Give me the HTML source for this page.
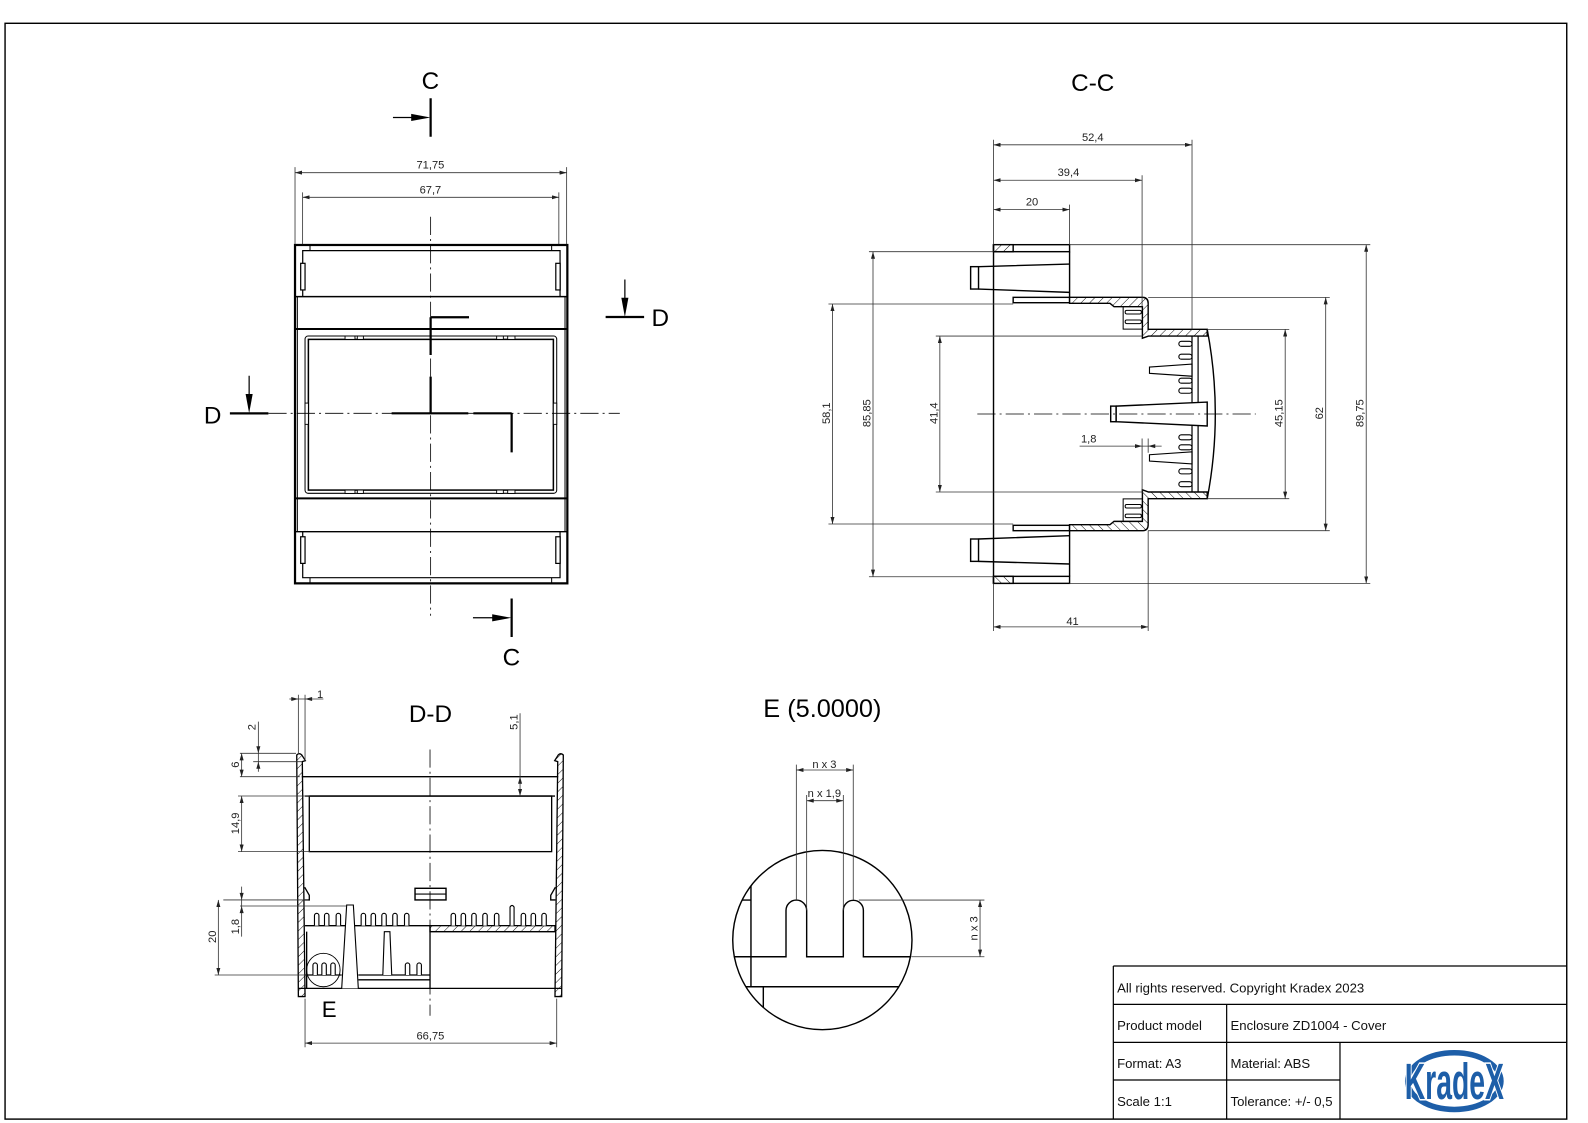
<!DOCTYPE html>
<html><head><meta charset="utf-8"><style>
html,body{margin:0;padding:0;background:#fff;}
svg{display:block;}
text{font-family:"Liberation Sans",Arial,sans-serif;}
</style></head><body>
<svg width="1588" height="1123" viewBox="0 0 1588 1123" xmlns="http://www.w3.org/2000/svg">
<defs>
<pattern id="h" patternUnits="userSpaceOnUse" width="6" height="6" patternTransform="rotate(45)"><rect width="6" height="6" fill="#fff"/><line x1="0" y1="0" x2="0" y2="6" stroke="#000" stroke-width="0.9"/></pattern>
<marker id="ar" viewBox="0 0 7 4" refX="7" refY="2" markerWidth="7" markerHeight="4" markerUnits="userSpaceOnUse" orient="auto-start-reverse"><path d="M0,0L7,2L0,4z" fill="#222"/></marker>
<clipPath id="ec"><circle cx="812" cy="928.2" r="88.5"/></clipPath>
</defs>
<rect width="1588" height="1123" fill="#fff"/>
<g transform="scale(1.01276)">

<!-- FRAME -->
<rect x="5" y="23" width="1542" height="1082" fill="none" stroke="#000" stroke-width="1.4"/>

<!-- ============ FRONT VIEW ============ -->
<g fill="none" stroke="#000">
<rect x="291.3" y="241.9" width="268.9" height="334.1" stroke-width="2.2"/>
<path d="M291.3,292.9H560.2M291.3,525H560.2" stroke-width="1.4"/>
<path d="M291.3,324.9H560.2M291.3,492.1H560.2" stroke-width="2"/>
<path d="M293.6,292.9V525M557.9,292.9V525" stroke-width="1"/>
<path d="M298.9,292.9V247.5H553V292.9" stroke-width="1.2"/>
<path d="M306.1,241.9V247.5M544.7,241.9V247.5" stroke-width="1"/>
<rect x="296.9" y="260" width="4.3" height="26.3" stroke-width="1.2" fill="#fff"/>
<rect x="548.8" y="260" width="4.3" height="26.3" stroke-width="1.2" fill="#fff"/>
<path d="M298.9,525V570.4H553V525" stroke-width="1.2"/>
<path d="M306.1,570.4V576M544.7,570.4V576" stroke-width="1"/>
<rect x="296.9" y="530" width="4.3" height="26.3" stroke-width="1.2" fill="#fff"/>
<rect x="548.8" y="530" width="4.3" height="26.3" stroke-width="1.2" fill="#fff"/>
<rect x="301.2" y="331.8" width="248.5" height="155.3" rx="3" stroke-width="1"/>
<rect x="304.5" y="335.1" width="241.9" height="148.8" stroke-width="1.5"/>
<g stroke-width="0.9" fill="#fff">
<rect x="340.7" y="331.8" width="9.8" height="3.3"/><rect x="352.8" y="331.8" width="6" height="3.3"/>
<rect x="490.4" y="331.8" width="6.6" height="3.3"/><rect x="501.3" y="331.8" width="7.2" height="3.3"/>
<rect x="340.7" y="483.9" width="9.8" height="3.3"/><rect x="352.8" y="483.9" width="6" height="3.3"/>
<rect x="490.4" y="483.9" width="6.6" height="3.3"/><rect x="501.3" y="483.9" width="7.2" height="3.3"/>
<rect x="301.2" y="398" width="3.3" height="21"/><rect x="546.4" y="398" width="3.3" height="21"/>
</g>
<path d="M425.2,214V608M265,408.1H612" stroke-width="0.8" stroke-dasharray="18,4,2,4"/>
<path d="M425.2,313.3H463.1M425.2,313.3V350.5M425.2,371.9V408.1M386.7,408.1H462.4M467.4,408.1H505.2M505.2,408.1V446.7" stroke-width="2.2"/>
<!-- section markers -->
<path d="M425.2,97V135M505.2,591V629M227,408.2H265M598,313H636" stroke-width="2.2"/>
<path d="M388,116H407M467,610H487M246,371V390M617,276V295" stroke-width="1.2"/>
</g>
<g fill="#000">
<polygon points="406,112.5 425,116 406,119.5"/>
<polygon points="486,606.5 505,610 486,613.5"/>
<polygon points="242.5,389 246,408 249.5,389"/>
<polygon points="613.5,294 617,313 620.5,294"/>
</g>
<g font-size="24" text-anchor="middle" fill="#000">
<text x="425" y="88">C</text>
<text x="505" y="657">C</text>
<text x="210" y="418">D</text>
<text x="652" y="322">D</text>
</g>
<!-- front dims -->
<g stroke="#333" stroke-width="0.8" fill="none">
<path d="M291.3,165V241M559.5,165V241M298.8,190V241M551.8,190V241"/>
<line x1="291.3" y1="170.5" x2="559.5" y2="170.5" marker-start="url(#ar)" marker-end="url(#ar)"/>
<line x1="298.8" y1="194.8" x2="551.8" y2="194.8" marker-start="url(#ar)" marker-end="url(#ar)"/>
</g>
<g font-size="11" fill="#222" text-anchor="middle">
<text x="425" y="166.5">71,75</text>
<text x="425" y="191">67,7</text>
</g>

<!-- ============ C-C VIEW ============ -->
<g id="cth" fill="none" stroke="#000" stroke-width="1.4">
<rect x="981" y="241.6" width="75.1" height="6.9"/>
<rect x="981" y="241.6" width="19.4" height="6.9" fill="url(#h)"/>
<path d="M1056.1,248.5V293.6"/>
<rect x="958.4" y="263.3" width="7.8" height="22.1"/>
<path d="M966.2,263.3L1056.1,260.7M966.2,285.4L1056.1,288.7"/>
<rect x="1000.4" y="293.6" width="55.7" height="5.3"/>
<path d="M1056.1,293.6H1128Q1133.7,293.6 1133.7,299.5V325.2H1192V331.8H1134L1128,334V302.8H1100L1096,299.5H1056.1Z" fill="url(#h)"/>
<path d="M1109,302.8V325H1128" stroke-width="1"/>
<rect x="1111" y="306.5" width="16" height="3.5" rx="1.5" stroke-width="1"/>
<rect x="1111" y="316" width="16" height="3.5" rx="1.5" stroke-width="1"/>
<g stroke-width="1.1" fill="#fff">
<rect x="1164" y="337" width="13" height="5" rx="2.5"/>
<rect x="1164" y="349.7" width="13" height="5" rx="2.5"/>
<rect x="1164" y="373.4" width="13" height="5" rx="2.5"/>
<rect x="1164" y="383.3" width="13" height="5" rx="2.5"/>
<polygon points="1135,362.4 1177,359.5 1177,371.5 1135,368.6"/>
</g>
</g>
<use href="#cth" transform="translate(0,817.6) scale(1,-1)"/>
<g fill="none" stroke="#000" stroke-width="1.4">
<path d="M981,241.6V576"/>
<path d="M1177,331.8V485.8M1183,331.8V485.8" stroke-width="1.2"/>
<path d="M1192,325.2Q1208,408.8 1192,492.4"/>
<polygon points="1102,401 1192,397 1192,420.6 1102,416.4" fill="#fff"/>
<rect x="1096.7" y="401" width="5.3" height="15.4" fill="#fff"/>
<path d="M965,408.8H1240" stroke-width="0.8" stroke-dasharray="18,4,2,4"/>
</g>
<g stroke="#333" stroke-width="0.8" fill="none">
<path d="M1056,241.6H1353M1056,576H1353M858,248.5H981M858,569.5H981M818,300.2H1000.4M818,517.4H1000.4M924,331.8H1128M924,485.8H1128M1192,325.2H1273M1192,492.4H1273M1133.7,293.6H1313M1133.7,524H1313"/>
<path d="M981,138V241.6M1177,138V325.2M1127.7,173V302.8M1056.1,202V241.6M981,576V623M1133.7,524V623M1127.7,433V487M1133.7,433V447"/>
<line x1="981" y1="143" x2="1177" y2="143" marker-start="url(#ar)" marker-end="url(#ar)"/>
<line x1="981" y1="178" x2="1127.7" y2="178" marker-start="url(#ar)" marker-end="url(#ar)"/>
<line x1="981" y1="207" x2="1056.1" y2="207" marker-start="url(#ar)" marker-end="url(#ar)"/>
<line x1="981" y1="619" x2="1133.7" y2="619" marker-start="url(#ar)" marker-end="url(#ar)"/>
<line x1="822" y1="300.2" x2="822" y2="517.4" marker-start="url(#ar)" marker-end="url(#ar)"/>
<line x1="862" y1="248.5" x2="862" y2="569.5" marker-start="url(#ar)" marker-end="url(#ar)"/>
<line x1="928" y1="331.8" x2="928" y2="485.8" marker-start="url(#ar)" marker-end="url(#ar)"/>
<line x1="1269" y1="325.2" x2="1269" y2="492.4" marker-start="url(#ar)" marker-end="url(#ar)"/>
<line x1="1309" y1="293.6" x2="1309" y2="524" marker-start="url(#ar)" marker-end="url(#ar)"/>
<line x1="1349" y1="241.6" x2="1349" y2="576" marker-start="url(#ar)" marker-end="url(#ar)"/>
<path d="M1066,440.5H1147"/>
</g>
<g fill="#222">
<polygon points="1120.7,438.5 1120.7,442.5 1127.7,440.5"/>
<polygon points="1140.7,438.5 1140.7,442.5 1133.7,440.5"/>
</g>
<g font-size="11" fill="#222" text-anchor="middle">
<text x="1079" y="139">52,4</text>
<text x="1055" y="174">39,4</text>
<text x="1019" y="203">20</text>
<text x="1059" y="617">41</text>
<text x="1075" y="437">1,8</text>
<text transform="translate(819.5,408) rotate(-90)">58,1</text>
<text transform="translate(859.5,408) rotate(-90)">85,85</text>
<text transform="translate(925.5,408) rotate(-90)">41,4</text>
<text transform="translate(1266.5,408) rotate(-90)">45,15</text>
<text transform="translate(1306.5,408) rotate(-90)">62</text>
<text transform="translate(1346.5,408) rotate(-90)">89,75</text>
</g>
<text x="1079" y="90" font-size="24" text-anchor="middle" fill="#000">C-C</text>

<!-- ============ D-D VIEW ============ -->
<g fill="none" stroke="#000" stroke-width="1.3">
<path d="M293,745.5Q295.5,743 298,745.5L301.5,751L298.5,752L301.2,984H294.6Z" fill="url(#h)"/>
<path d="M556.2,745.5Q553.7,743 551.2,745.5L547.7,751L550.7,752L548,984H554.6Z" fill="url(#h)"/>
<path d="M298,766.9H551.2M301.2,786H548"/>
<rect x="305.4" y="786" width="239.3" height="54.9"/>
<path d="M300.8,876L305.4,884V888.6H300.8M548.4,876L543.8,884V888.6H548.4"/>
<path d="M301.2,914H424.6"/>
<rect x="424.6" y="914" width="123.4" height="5.9" fill="url(#h)"/>
<path d="M424.6,919.9H548M424.6,914V975.9M294.6,975.9H554.6M302.8,919.9V975.9"/>
<path d="M301.2,962.7H337.4M353.8,962.7H424.6M353.8,967.5H424.6"/>
<g fill="#fff" stroke-width="1.1">
<path d="M310.5,914V904A2.2,2.2 0 0 1 314.9,904V914"/>
<path d="M320.4,914V904A2.2,2.2 0 0 1 324.8,904V914"/>
<path d="M331.9,914V904A2.2,2.2 0 0 1 336.3,904V914"/>
<path d="M356.6,914V904A2.2,2.2 0 0 1 361,904V914"/>
<path d="M366.4,914V904A2.2,2.2 0 0 1 370.8,904V914"/>
<path d="M377,914V904A2.2,2.2 0 0 1 381.4,904V914"/>
<path d="M387.8,914V904A2.2,2.2 0 0 1 392.2,904V914"/>
<path d="M399.4,914V904A2.2,2.2 0 0 1 403.8,904V914"/>
<path d="M445.4,914V904A2.2,2.2 0 0 1 449.8,904V914"/>
<path d="M455.3,914V904A2.2,2.2 0 0 1 459.7,904V914"/>
<path d="M465.8,914V904A2.2,2.2 0 0 1 470.2,904V914"/>
<path d="M476.7,914V904A2.2,2.2 0 0 1 481.1,904V914"/>
<path d="M488.2,914V904A2.2,2.2 0 0 1 492.6,904V914"/>
<path d="M514.6,914V904A2.2,2.2 0 0 1 519,904V914"/>
<path d="M524.4,914V904A2.2,2.2 0 0 1 528.8,904V914"/>
<path d="M535,914V904A2.2,2.2 0 0 1 539.4,904V914"/>
<path d="M503.6,914V895.6Q505.6,892.5 507.6,895.6V914"/>
<path d="M337.4,975.9L342.3,893.6H348.9L353.8,975.9"/>
<path d="M378,962.7L379.5,920H385L386.8,962.7"/>
<path d="M309,962.7V953A2.2,2.2 0 0 1 313.4,953V962.7"/>
<path d="M317.8,962.7V953A2.2,2.2 0 0 1 322.2,953V962.7"/>
<path d="M326.6,962.7V953A2.2,2.2 0 0 1 331,953V962.7"/>
<path d="M400.2,962.7V953A2.2,2.2 0 0 1 404.6,953V962.7"/>
<path d="M411.7,962.7V953A2.2,2.2 0 0 1 416.1,953V962.7"/>
</g>
<circle cx="319.3" cy="957.8" r="16.5" stroke-width="0.9"/>
<rect x="409.8" y="877.1" width="30.6" height="11.5" stroke-width="1.4" fill="#fff"/>
<path d="M409.8,882.8H440.4" stroke-width="1.2"/>
<path d="M424.6,740V1003" stroke-width="0.8" stroke-dasharray="18,4,2,4"/>
</g>
<g stroke="#333" stroke-width="0.8" fill="none">
<path d="M294.6,686V745M301.2,686V752M285.7,690.2H319.3"/>
<path d="M236.9,743.8H292.3M250,752.1H298M236.9,766.9H296M235,786H306M235,840.9H306M220.5,888.6H304.5M237,894.6H342M212,962.7H302.8"/>
<path d="M255.1,712.5V762M238.6,875.5V924.8M513.5,704.3V786"/>
<line x1="238.6" y1="743.8" x2="238.6" y2="766.9" marker-start="url(#ar)" marker-end="url(#ar)"/>
<line x1="238.6" y1="786" x2="238.6" y2="840.9" marker-start="url(#ar)" marker-end="url(#ar)"/>
<line x1="215.6" y1="888.6" x2="215.6" y2="962.7" marker-start="url(#ar)" marker-end="url(#ar)"/>
<path d="M301.2,986V1034M549.7,986V1034"/>
<line x1="301.2" y1="1030" x2="549.7" y2="1030" marker-start="url(#ar)" marker-end="url(#ar)"/>
</g>
<g fill="#222">
<polygon points="287.6,688.2 287.6,692.2 294.6,690.2"/>
<polygon points="308.2,688.2 308.2,692.2 301.2,690.2"/>
<polygon points="253.1,736.8 257.1,736.8 255.1,743.8"/>
<polygon points="253.1,759.1 257.1,759.1 255.1,752.1"/>
<polygon points="236.6,881.6 240.6,881.6 238.6,888.6"/>
<polygon points="236.6,901.6 240.6,901.6 238.6,894.6"/>
<polygon points="511.5,773.9 515.5,773.9 513.5,766.9"/>
<polygon points="511.5,779 515.5,779 513.5,786"/>
</g>
<g font-size="11" fill="#222" text-anchor="middle">
<text x="316" y="689">1</text>
<text x="425" y="1026.5">66,75</text>
<text transform="translate(252.5,718) rotate(-90)">2</text>
<text transform="translate(236,755) rotate(-90)">6</text>
<text transform="translate(236,813) rotate(-90)">14,9</text>
<text transform="translate(236,915) rotate(-90)">1,8</text>
<text transform="translate(213.5,925) rotate(-90)">20</text>
<text transform="translate(511,713) rotate(-90)">5,1</text>
</g>
<text x="425" y="713" font-size="24" text-anchor="middle" fill="#000">D-D</text>
<text x="325" y="1004" font-size="22" text-anchor="middle" fill="#000">E</text>

<!-- ============ E DETAIL ============ -->
<circle cx="812" cy="928.2" r="88.5" fill="none" stroke="#000" stroke-width="1.4"/>
<g clip-path="url(#ec)" fill="none" stroke="#000" stroke-width="1.4">
<path d="M715,944.7H776.1V898.9A10.2,10.2 0 0 1 796.5,898.9V944.7H832.7V898.9A9.9,9.9 0 0 1 852.5,898.9V944.7H910"/>
<path d="M741.5,860V974.3M730,888.7H741.5M720,974.3H905M753.7,974.3V1025"/>
</g>
<g stroke="#333" stroke-width="0.8" fill="none">
<path d="M786.3,755V888.7M842.5,755V888.7M796.5,785V898.9M832.7,785V898.9M848,888.7H972M900,944.7H972"/>
<line x1="786.3" y1="760.3" x2="842.5" y2="760.3" marker-start="url(#ar)" marker-end="url(#ar)"/>
<line x1="796.5" y1="790.6" x2="832.7" y2="790.6" marker-start="url(#ar)" marker-end="url(#ar)"/>
<line x1="967.7" y1="888.7" x2="967.7" y2="944.7" marker-start="url(#ar)" marker-end="url(#ar)"/>
</g>
<g font-size="11" fill="#222" text-anchor="middle">
<text x="814" y="758.5">n x 3</text>
<text x="814" y="787">n x 1,9</text>
<text transform="translate(965,916.7) rotate(-90)">n x 3</text>
</g>
<text x="812" y="708" font-size="25" text-anchor="middle" fill="#000">E (5.0000)</text>

<!-- ============ TITLE BLOCK ============ -->
<path d="M1099.3,953.8H1547M1099.3,953.8V1105M1099.3,991.7H1547M1099.3,1029.2H1547M1099.3,1066.4H1323.1M1211.2,991.7V1105M1323.1,1029.2V1105" stroke="#000" stroke-width="1.2" fill="none"/>
<g font-size="13" fill="#111">
<text x="1103" y="980">All rights reserved. Copyright Kradex 2023</text>
<text x="1103" y="1017">Product model</text>
<text x="1215" y="1017">Enclosure ZD1004 - Cover</text>
<text x="1103" y="1054.5">Format: A3</text>
<text x="1215" y="1054.5">Material: ABS</text>
<text x="1103" y="1092">Scale 1:1</text>
<text x="1215" y="1092">Tolerance: +/- 0,5</text>
</g>
<ellipse cx="1436" cy="1067.5" rx="46" ry="28" fill="none" stroke="#1d5ea8" stroke-width="5.5"/>
<text transform="translate(1436,1085) scale(0.56,1)" font-size="50" font-weight="bold" text-anchor="middle" fill="#1d5ea8" stroke="#fff" stroke-width="3" paint-order="stroke">KradeX</text>

</g>
</svg>
</body></html>
